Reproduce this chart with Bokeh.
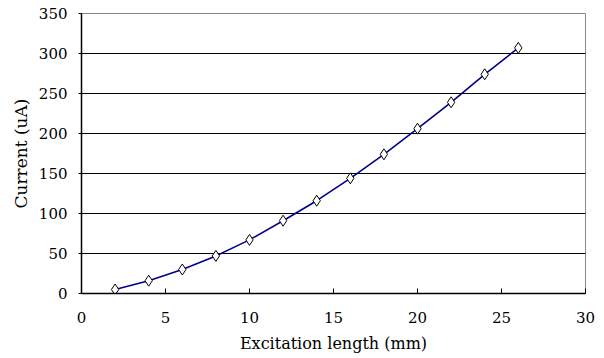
from bokeh.plotting import figure
from bokeh.models import Range1d, FixedTicker
from bokeh.embed import file_html
from bokeh.resources import INLINE

length_mm = [2, 4, 6, 8, 10, 12, 14, 16, 18, 20, 22, 24, 26]
current_ua = [5, 16, 30, 47, 67, 91, 116, 144, 174, 206, 239, 274, 307]
x_ticks = [0, 5, 10, 15, 20, 25, 30]
y_ticks = [0, 50, 100, 150, 200, 250, 300, 350]

FONT = "DejaVu Serif"

p = figure(width=604, height=358, output_backend="svg", toolbar_location=None,
           x_range=Range1d(0, 30), y_range=Range1d(0, 350),
           min_border_left=81, min_border_right=19, min_border_top=13, min_border_bottom=65)

p.outline_line_color = "#888888"
p.outline_line_width = 1
p.background_fill_color = "white"
p.border_fill_color = "white"

p.xgrid.grid_line_color = None
p.ygrid.grid_line_color = "black"
p.ygrid.grid_line_width = 1
p.ygrid.ticker = FixedTicker(ticks=y_ticks[1:-1])

p.xaxis.ticker = FixedTicker(ticks=x_ticks)
p.yaxis.ticker = FixedTicker(ticks=y_ticks)
for ax in (p.xaxis, p.yaxis):
    ax.axis_line_color = "black"
    ax.axis_line_width = 1.5
    ax.major_tick_line_color = "black"
    ax.minor_tick_line_color = None
    ax.major_label_text_font = FONT
    ax.major_label_text_font_size = "15px"
    ax.major_label_text_color = "black"
    ax.axis_label_text_font = FONT
    ax.axis_label_text_font_style = "normal"
    ax.axis_label_text_color = "black"

p.xaxis.major_tick_in = 5
p.xaxis.major_tick_out = 0
p.xaxis.major_label_standoff = 18
p.xaxis.axis_label = "Excitation length (mm)"
p.xaxis.axis_label_text_font_size = "16px"
p.xaxis.axis_label_standoff = 8

p.yaxis.major_tick_in = 0
p.yaxis.major_tick_out = 3
p.yaxis.major_label_standoff = 11
p.yaxis.axis_label = "Current (uA)"
p.yaxis.axis_label_text_font_size = "17px"
p.yaxis.axis_label_standoff = 5

p.line(length_mm, current_ua, line_color="#00008B", line_width=1.6)
p.scatter(length_mm, current_ua, marker="diamond", size=11,
          fill_color="white", line_color="black", line_width=1)

open("out.html", "w").write(file_html(p, INLINE))
